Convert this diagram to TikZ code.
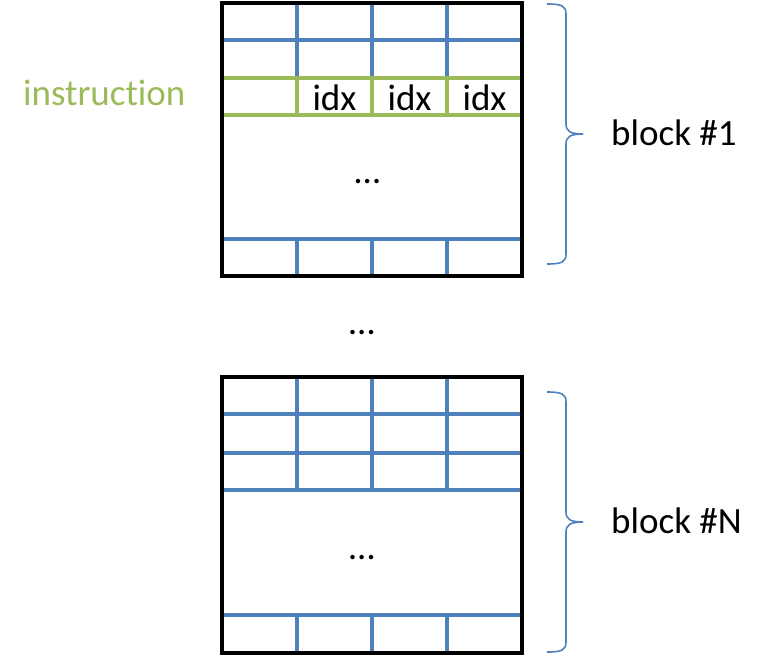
\documentclass[tikz,border=0pt]{standalone}
\usepackage{fontspec}
\setmainfont{Carlito}[Ligatures=NoCommon]
\definecolor{azulgrade}{HTML}{4F81BD}
\definecolor{verdeinstr}{HTML}{9BBB59}

\begin{document}
\begin{tikzpicture}[x=1pt,y=-1pt,
    borda/.style={line width=4.5pt, black},
    linhagrade/.style={line width=3.5pt, azulgrade},
    linhainstr/.style={line width=3.5pt, verdeinstr},
    chave/.style={line width=1.6pt, azulgrade},
    rotulo/.style={inner sep=0pt, anchor=base, font=\fontsize{37}{40}\selectfont}]
    \useasboundingbox (0,0) rectangle (768,656);
    % Bloco 1: linhas da grade
    \draw[linhagrade] (222,40) -- (522,40);
    \draw[linhagrade] (222,239) -- (522,239);
    \draw[linhagrade] (297,3) -- (297,78) (372,3) -- (372,78) (447,3) -- (447,78);
    \draw[linhagrade] (297,239) -- (297,276) (372,239) -- (372,276) (447,239) -- (447,276);
    % Bloco 1: linha da instrucao
    \draw[linhainstr] (222,78) -- (522,78);
    \draw[linhainstr] (222,115) -- (522,115);
    \draw[linhainstr] (297,78) -- (297,115) (372,78) -- (372,115) (447,78) -- (447,115);
    \draw[borda] (222,3) rectangle (522,276);
    % Bloco N: linhas da grade
    \draw[linhagrade] (222,414) -- (522,414);
    \draw[linhagrade] (222,453) -- (522,453);
    \draw[linhagrade] (222,490) -- (522,490);
    \draw[linhagrade] (222,615) -- (522,615);
    \draw[linhagrade] (297,377) -- (297,490) (372,377) -- (372,490) (447,377) -- (447,490);
    \draw[linhagrade] (297,615) -- (297,653) (372,615) -- (372,653) (447,615) -- (447,653);
    \draw[borda] (222,377) rectangle (522,653);
    % Chaves
    \draw[chave] (547,4) .. controls (562,4) and (566,6) .. (566,14) -- (566,124)
        .. controls (566,131) and (570,134) .. (583,134)
        .. controls (570,134) and (566,137) .. (566,144) -- (566,254)
        .. controls (566,262) and (562,264) .. (547,264);
    \draw[chave] (547,392) .. controls (562,392) and (566,394) .. (566,402) -- (566,512)
        .. controls (566,519) and (570,522) .. (583,522)
        .. controls (570,522) and (566,525) .. (566,532) -- (566,642)
        .. controls (566,650) and (562,652) .. (547,652);
    % Textos
    \node[rotulo, anchor=base west, text=verdeinstr] (instrucao) at (23,105) {instruction};
    \node[rotulo] (idxa) at (334.5,110) {idx};
    \node[rotulo] (idxb) at (409.5,110) {idx};
    \node[rotulo] (idxc) at (484.5,110) {idx};
    \node[rotulo] (retic1) at (367.5,183) {…};
    \node[rotulo] (reticmeio) at (362,334) {…};
    \node[rotulo] (reticN) at (362,559) {…};
    \node[rotulo, anchor=base west] (bloco1) at (611,145) {block \#1};
    \node[rotulo, anchor=base west] (blocoN) at (611,533) {block \#N};
\end{tikzpicture}
\end{document}
